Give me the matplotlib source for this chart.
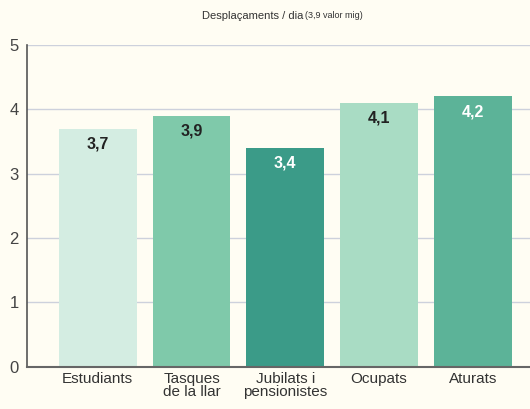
import matplotlib.pyplot as plt
import numpy as np

plt.rcParams['font.family'] = ['Liberation Sans Narrow', 'Liberation Sans', 'DejaVu Sans']

categories = ['Estudiants', 'Tasques\nde la llar', 'Jubilats i\npensionistes', 'Ocupats', 'Aturats']
values = [3.7, 3.9, 3.4, 4.1, 4.2]
labels = ['3,7', '3,9', '3,4', '4,1', '4,2']
colors = ['#d4ede2', '#7fc9aa', '#3b9b88', '#a9dcc4', '#5cb398']
label_colors = ['#222222', '#222222', 'white', '#222222', 'white']

bg = '#fffdf3'
fig = plt.figure(figsize=(5.3, 4.09), dpi=100, facecolor=bg)
ax = fig.add_axes([0.051, 0.103, 0.949, 0.787], facecolor=bg)

x = np.arange(len(values))
ax.bar(x, values, width=0.83, color=colors, zorder=2)
for xi, v, lab, c in zip(x, values, labels, label_colors):
    ax.text(xi, v - 0.12, lab, ha='center', va='top', fontsize=11.5,
            fontweight='bold', color=c, zorder=3)

ax.set_ylim(0, 5)
ax.set_xlim(-0.755, 4.61)
ax.set_yticks([0, 1, 2, 3, 4, 5])
ax.grid(axis='y', color='#cdd1dc', lw=1, zorder=0)
ax.set_xticks(x)
ax.set_xticklabels(categories, fontsize=11, color='#333333', linespacing=0.9)
ax.tick_params(axis='x', length=0, pad=4)
ax.tick_params(axis='y', length=0, pad=6, labelsize=12, labelcolor='#444444')

for s in ['top', 'right']:
    ax.spines[s].set_visible(False)
ax.spines['left'].set_color('#555555')
ax.spines['bottom'].set_color('#666666')
ax.spines['left'].set_linewidth(1.2)
ax.spines['bottom'].set_linewidth(1.5)

fig.text(0.572, 0.962, 'Desplaçaments / dia', ha='right', va='center',
         fontsize=8, color='#333333')
fig.text(0.576, 0.962, '(3,9 valor mig)', ha='left', va='center',
         fontsize=6.5, color='#333333')

fig.savefig('out.png', dpi=100, facecolor=bg)
